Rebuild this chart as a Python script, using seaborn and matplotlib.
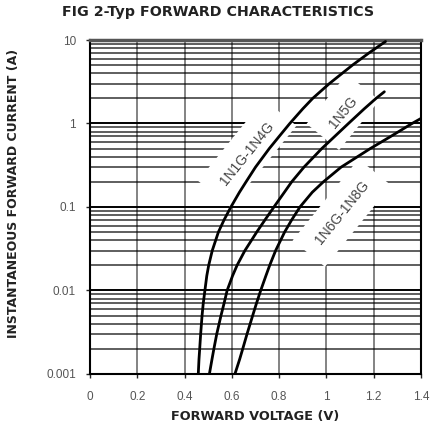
import pandas as pd
import seaborn as sns
import matplotlib.pyplot as plt
import numpy as np
from matplotlib.ticker import LogLocator, FixedLocator, NullFormatter

# ---- data ----
# 1N1G-1N4G
i1 = [0.001, 0.0015, 0.002, 0.003, 0.005, 0.007, 0.01, 0.015, 0.02, 0.03, 0.05, 0.07,
      0.1, 0.15, 0.2, 0.3, 0.5, 0.7, 1, 1.5, 2, 3, 5, 7, 9.6]
v1 = [0.458, 0.461, 0.464, 0.468, 0.474, 0.479, 0.486, 0.494, 0.502, 0.517, 0.543, 0.567,
      0.596, 0.632, 0.660, 0.700, 0.758, 0.800, 0.845, 0.900, 0.942, 1.012, 1.110, 1.180, 1.250]
# 1N5G
i2 = [0.001, 0.0015, 0.002, 0.003, 0.005, 0.007, 0.01, 0.015, 0.02, 0.03, 0.05, 0.07,
      0.1, 0.15, 0.2, 0.3, 0.5, 0.7, 1, 1.5, 2, 2.4]
v2 = [0.505, 0.516, 0.524, 0.536, 0.554, 0.567, 0.580, 0.603, 0.622, 0.655, 0.705, 0.740,
      0.778, 0.822, 0.853, 0.905, 0.980, 1.035, 1.093, 1.160, 1.210, 1.245]
# 1N6G-1N8G
i3 = [0.001, 0.0015, 0.002, 0.003, 0.005, 0.007, 0.01, 0.015, 0.02, 0.03, 0.05, 0.07,
      0.1, 0.15, 0.2, 0.3, 0.5, 0.7, 1, 1.15]
v3 = [0.613, 0.633, 0.646, 0.664, 0.688, 0.704, 0.722, 0.744, 0.760, 0.785, 0.823, 0.853,
      0.888, 0.940, 0.987, 1.062, 1.185, 1.272, 1.362, 1.400]

series_names = ['1N1G-1N4G', '1N5G', '1N6G-1N8G']
# label anchor points (V, A)
label_v = [0.665, 1.07, 1.065]
label_i = [0.44, 1.37, 0.085]

x_ticks = [0, 0.2, 0.4, 0.6, 0.8, 1, 1.2, 1.4]
x_tick_labels = ['0', '0.2', '0.4', '0.6', '0.8', '1', '1.2', '1.4']
y_ticks = [0.001, 0.01, 0.1, 1, 10]
y_tick_labels = ['0.001', '0.01', '0.1', '1', '10']

df = pd.concat([
    pd.DataFrame({'V': v, 'I': i, 'Type': name})
    for v, i, name in zip([v1, v2, v3], [i1, i2, i3], series_names)
])

# ---- styling ----
sns.set_style('white')
plt.rcParams['font.family'] = ['Liberation Sans', 'DejaVu Sans']

fig = plt.figure(figsize=(4.36, 4.32), dpi=100)
ax = fig.add_axes([0.2064, 0.1343, 0.7592, 0.7731])

ax.set_yscale('log')
ax.set_xlim(0, 1.4)
ax.set_ylim(0.001, 10)

# grid
ax.yaxis.set_major_locator(FixedLocator(y_ticks))
ax.yaxis.set_minor_locator(LogLocator(base=10, subs=np.arange(2, 10)))
ax.yaxis.set_minor_formatter(NullFormatter())
ax.set_yticks(y_ticks)
ax.set_yticklabels(y_tick_labels)
ax.set_xticks(x_ticks)
ax.set_xticklabels(x_tick_labels)
ax.grid(axis='y', which='major', color='black', lw=1.4, zorder=0)
ax.grid(axis='y', which='minor', color='black', lw=1.1, alpha=0.8, zorder=0)
ax.grid(axis='x', which='major', color='#6e6e6e', lw=1.2, zorder=0)
ax.set_axisbelow(True)

sns.lineplot(data=df, x='V', y='I', hue='Type', palette=['black'] * 3,
             estimator=None, sort=False, lw=2.0, legend=False, ax=ax, zorder=5)

# curve labels with white boxes cutting the grid
for name, lv, li in zip(series_names, label_v, label_i):
    ax.text(lv, li, name, rotation=51, rotation_mode='anchor', ha='center', va='center',
            fontsize=10, color='#444444', zorder=4,
            bbox=dict(boxstyle='square,pad=1.0', fc='white', ec='none'))

for s in ax.spines.values():
    s.set_visible(True)
    s.set_color('black')
    s.set_linewidth(1.5)
ax.spines['top'].set_color('#555555')
ax.spines['top'].set_linewidth(2.5)

ax.tick_params(axis='both', which='major', direction='out', length=3, width=1,
               labelsize=8.5, labelcolor='#555555')
ax.tick_params(axis='x', pad=9)
ax.tick_params(axis='y', pad=7)
ax.tick_params(axis='y', which='minor', length=0)
ax.tick_params(left=True, bottom=True)

bold_font = ['DejaVu Sans']
ax.set_xlabel('FORWARD VOLTAGE (V)', fontsize=9.3, fontweight='bold', color='#222222',
              labelpad=5, family=bold_font)
ax.set_ylabel('INSTANTANEOUS FORWARD CURRENT (A)', fontsize=9, fontweight='bold', color='#222222',
              family=bold_font)
ax.yaxis.set_label_coords(-0.21, 0.54)
fig.text(0.5, 0.972, 'FIG 2-Typ FORWARD CHARACTERISTICS', ha='center', va='center',
         fontsize=10.3, fontweight='bold', color='#222222', family=bold_font)

fig.savefig('out.png', dpi=100)
